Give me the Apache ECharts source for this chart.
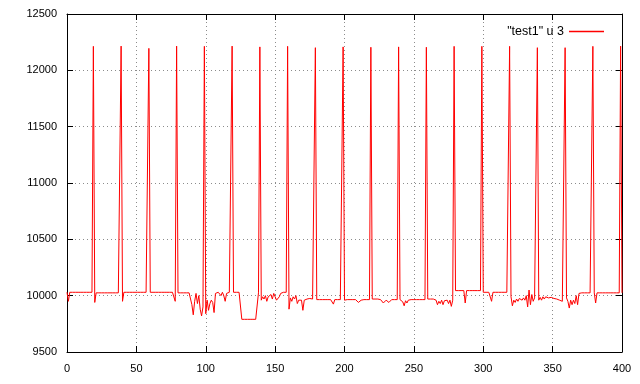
<!DOCTYPE html>
<html><head><meta charset="utf-8">
<script src="https://cdn.jsdelivr.net/npm/echarts@6/dist/echarts.min.js"></script>
<style>html,body{margin:0;padding:0;background:#fff}#c{width:640px;height:384px}</style>
</head><body><div id="c"></div>
<script>
const seriesName = '"test1" u 3';
// y value at x = 0, 1, 2, ... 400
const values = [
10030, 9950,10030,10030,10030,10030,10030,10030,10030,10030,
10030,10030,10030,10030,10030,10030,10030,10030,10030,12213,
9940,10025,10025,10025,10025,10025,10025,10025,10025,10025,
10025,10025,10025,10025,10025,10025,10025,10025,10025,12215,
9950,10030,10030,10030,10030,10030,10030,10030,10030,10030,
10030,10030,10030,10030,10030,10030,10030,10030,10030,12195,
10030,10030,10030,10030,10030,10030,10030,10030,10030,10030,
10030,10030,10030,10030,10030,10030,10030,10030,9950,12215,
10025,10025,10025,10025,10025,10025,10025,10025,10025,10025,
9920,9830,9950,10020,9930,10000,9880,9820,9900,12213,
9840,9960,9870,9930,9960,9940,9850,10020,10025,10030,
10020,10000,10030,10000,9950,10020,10030,10030,10030,12215,
10030,10030,10030,10030,10030,10030,9790,9790,9790,9790,
9790,9790,9790,9790,9790,9790,9790,9790,10025,12208,
9960,9990,9970,10000,9950,9990,9980,10010,9970,10020,
9990,9960,9950,9990,10020,10025,10030,10030,10030,12213,
9880,9980,9950,9990,9970,10000,9930,9960,9970,9960,
9870,9960,9975,9970,9970,9975,9970,9970,9970,12201,
9965,9965,9965,9965,9965,9965,9965,9965,9965,9965,
9965,9965,9925,9965,9965,9965,9965,9965,9965,12208,
9960,9970,9965,9970,9965,9960,9965,9970,9965,9955,
9940,9925,9960,9970,9965,9970,9965,9970,9965,12205,
9970,9965,9970,9975,9970,9960,9965,9950,9935,9920,
9960,9965,9940,9930,9965,9970,9965,9970,9965,12208,
9965,9960,9945,9910,9955,9935,9960,9950,9965,9960,
9965,9955,9965,9960,9965,9960,9965,9960,9965,12205,
9970,9965,9970,9965,9970,9965,9960,9920,9950,9930,
9960,9920,9955,9945,9960,9930,9960,9905,9960,12213,
10045,10045,10045,10045,10045,10045,10045,9935,10045,10045,
10045,10045,10045,10045,10045,10045,10045,10045,10045,12213,
10030,10030,10030,10030,10030,10030,9950,10030,10030,10030,
10030,10030,10030,10030,10030,10030,10030,10030,10030,12213,
9990,9910,9960,9940,9970,9950,9975,9960,9960,9980,
9960,10000,9900,10050,9920,10010,9950,9980,9970,12201,
9960,9985,9960,9990,9970,9990,9990,9980,9985,9985,
9985,9975,9975,9970,9965,9960,9955,9950,9945,12201,
9980,9950,9890,9960,9920,9960,9930,10000,9920,10020,
10025,10025,10025,10025,10025,10025,10025,10025,10025,12213,
10025,9935,10025,10025,10025,10025,10025,10025,10025,10025,
10025,10025,10025,10025,10025,10025,10025,10025,10025,12215,
10025
];
const xRange = [0, 400], xStep = 50;
const yRange = [9500, 12500], yStep = 500;
const lineColor = '#ff0000';

const chart = echarts.init(document.getElementById('c'), null, {renderer: 'canvas'});
const font = '"Liberation Sans", Arial, sans-serif';
const data = values.map((v, i) => [i, v]);
const tick = {show: true, inside: true, length: 6, lineStyle: {color: '#000', width: 1}};
const border = {show: true, onZero: false, lineStyle: {color: '#000', width: 1}};
const gridLine = {show: true, lineStyle: {color: '#8c8c8c', type: [1, 3], width: 1}};
const lbl = {color: '#000', fontSize: 11, fontFamily: font, formatter: v => String(v)};

chart.setOption({
  animation: false,
  backgroundColor: '#fff',
  color: [lineColor],
  grid: {left: 67, right: 18, top: 14, bottom: 32, containLabel: false},
  xAxis: [
    {type: 'value', min: xRange[0], max: xRange[1], interval: xStep, position: 'bottom',
     axisLine: border, axisTick: tick, splitLine: gridLine,
     axisLabel: Object.assign({margin: 11}, lbl)},
    {type: 'value', min: xRange[0], max: xRange[1], interval: xStep, position: 'top',
     axisLine: border, axisTick: tick, splitLine: {show: false}, axisLabel: {show: false}}
  ],
  yAxis: [
    {type: 'value', min: yRange[0], max: yRange[1], interval: yStep, position: 'left',
     axisLine: border, axisTick: tick, splitLine: gridLine,
     axisLabel: Object.assign({margin: 10}, lbl)},
    {type: 'value', min: yRange[0], max: yRange[1], interval: yStep, position: 'right',
     axisLine: border, axisTick: tick, splitLine: {show: false}, axisLabel: {show: false}}
  ],
  legend: {
    data: [{name: seriesName, icon: 'rect'}],
    right: 31, top: 20, align: 'right',
    itemWidth: 35, itemHeight: 1.4,
    itemStyle: {color: lineColor, borderWidth: 0, opacity: 1},
    lineStyle: {color: lineColor, width: 0, opacity: 1},
    textStyle: {color: '#000', fontSize: 12.5, fontFamily: font},
    selectedMode: false
  },
  series: [{
    name: seriesName, type: 'line', data: data,
    xAxisIndex: 0, yAxisIndex: 0,
    showSymbol: false, symbol: 'none',
    lineStyle: {color: lineColor, width: 1},
    itemStyle: {color: lineColor},
    z: 3
  }]
});
</script>
</body></html>
